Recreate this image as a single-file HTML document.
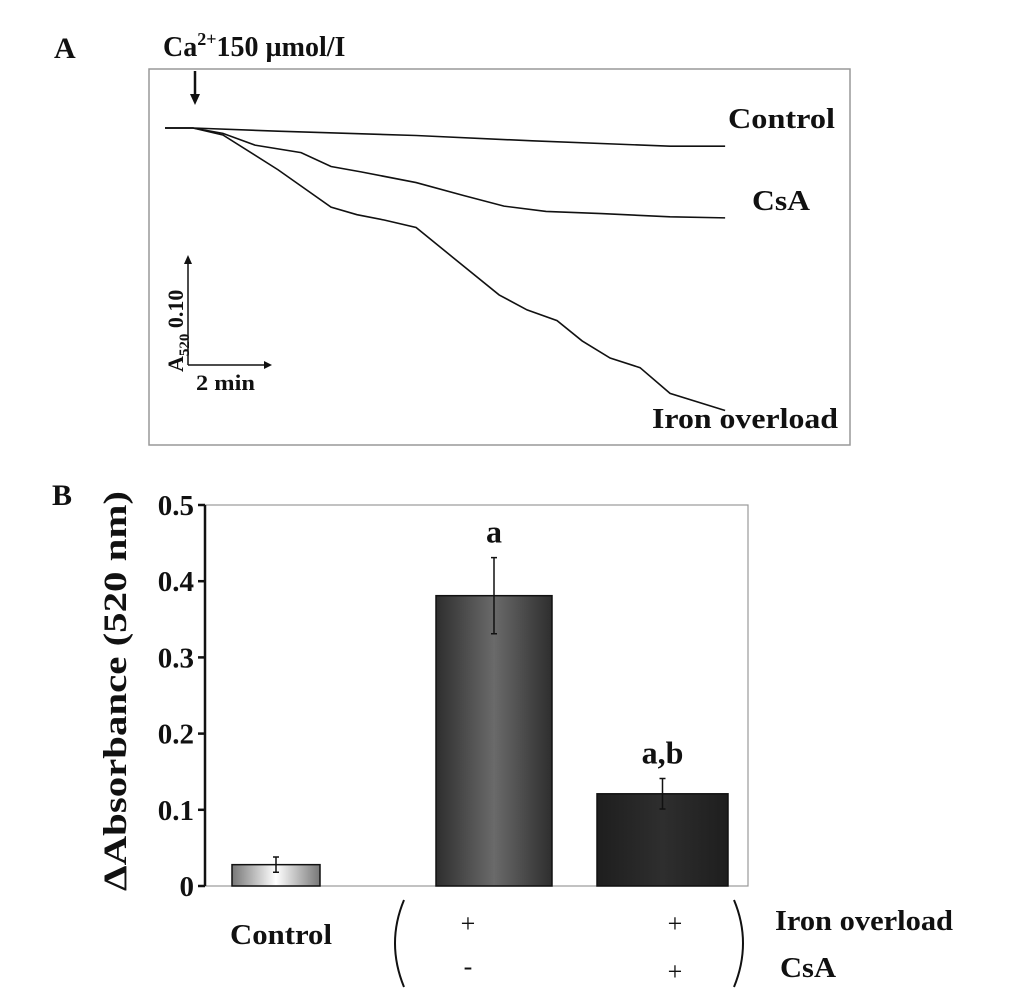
<!DOCTYPE html>
<html><head><meta charset="utf-8"><style>
body{margin:0;background:#fff}
svg text{font-family:"Liberation Serif",serif;font-weight:bold;fill:#111}
</style></head><body>
<svg width="1033" height="990" viewBox="0 0 1033 990" xmlns="http://www.w3.org/2000/svg">
<defs>
<linearGradient id="g0" x1="0" x2="1"><stop offset="0" stop-color="#777"/><stop offset="0.5" stop-color="#fff"/><stop offset="1" stop-color="#777"/></linearGradient>
<linearGradient id="g1" x1="0" x2="1"><stop offset="0" stop-color="#2e2e2e"/><stop offset="0.5" stop-color="#6a6a6a"/><stop offset="1" stop-color="#2e2e2e"/></linearGradient>
<linearGradient id="g2" x1="0" x2="1"><stop offset="0" stop-color="#1e1e1e"/><stop offset="0.5" stop-color="#2e2e2e"/><stop offset="1" stop-color="#1e1e1e"/></linearGradient>
</defs>
<text x="54" y="58" font-size="30">A</text>
<text x="52" y="505" font-size="30">B</text>
<rect x="149" y="69" width="701" height="376" fill="none" stroke="#999" stroke-width="1.5"/>
<text x="163" y="56" font-size="28">Ca<tspan font-size="18" dy="-11">2+</tspan><tspan dy="11">150 µmol/I</tspan></text>
<g><line x1="195" y1="71" x2="195" y2="96" stroke="#111" stroke-width="2.5"/><path d="M190,94 L200,94 L195,105 Z" fill="#111"/></g>
<g id="traces"></g>
<text x="728" y="128" font-size="29" textLength="107" lengthAdjust="spacingAndGlyphs">Control</text>
<text x="752" y="210" font-size="29" textLength="58" lengthAdjust="spacingAndGlyphs">CsA</text>
<text x="652" y="428" font-size="29" textLength="186" lengthAdjust="spacingAndGlyphs">Iron overload</text>
<g>
<line x1="188" y1="365" x2="188" y2="262" stroke="#111" stroke-width="1.5"/><path d="M184,264 L192,264 L188,255 Z" fill="#111"/>
<line x1="188" y1="365" x2="266" y2="365" stroke="#111" stroke-width="1.5"/><path d="M264,361 L264,369 L272,365 Z" fill="#111"/>
<text transform="translate(183,372) rotate(-90)" font-size="22">A<tspan font-size="15" dy="6">520</tspan><tspan dy="-6"> 0.10</tspan></text>
<text x="196" y="390" font-size="22" textLength="59" lengthAdjust="spacingAndGlyphs">2 min</text>
</g>
<rect x="205" y="505" width="543" height="381" fill="none" stroke="#999" stroke-width="1.2"/>
<g id="bars"></g>
<text transform="translate(126,691) rotate(-90)" font-size="33" text-anchor="middle" textLength="400" lengthAdjust="spacingAndGlyphs">ΔAbsorbance (520 nm)</text>
<text x="230" y="944" font-size="28" textLength="102" lengthAdjust="spacingAndGlyphs">Control</text>
<path d="M404,900 Q386,943 404,987" fill="none" stroke="#111" stroke-width="2"/>
<path d="M734,900 Q752,943 734,987" fill="none" stroke="#111" stroke-width="2"/>
<text x="468" y="932" font-size="26" text-anchor="middle" style="font-weight:normal">+</text>
<text x="675" y="932" font-size="26" text-anchor="middle" style="font-weight:normal">+</text>
<text x="468" y="975" font-size="26" text-anchor="middle" style="font-weight:normal">-</text>
<text x="675" y="980" font-size="26" text-anchor="middle" style="font-weight:normal">+</text>
<text x="775" y="930" font-size="28" textLength="178" lengthAdjust="spacingAndGlyphs">Iron overload</text>
<text x="780" y="977" font-size="28" textLength="56" lengthAdjust="spacingAndGlyphs">CsA</text>
</svg>
<script>
const traceNames=["control","csa","iron-overload"];
const controlT=[0,0.69,2.79,6.20,9.07,12.47,13.83];
const controlA=[0,0,-0.003,-0.007,-0.012,-0.017,-0.017];
const csaT=[0,0.69,1.43,2.22,3.36,4.10,4.84,6.20,7.36,8.37,9.41,10.77,12.47,13.83];
const csaA=[0,0,-0.005,-0.016,-0.023,-0.036,-0.041,-0.051,-0.063,-0.073,-0.078,-0.080,-0.083,-0.084];
const ironT=[0,0.69,1.43,2.79,4.10,4.74,5.41,6.20,7.11,8.25,8.94,9.68,10.30,10.99,11.73,12.47,13.83];
const ironA=[0,0,-0.0065,-0.039,-0.074,-0.081,-0.086,-0.093,-0.121,-0.156,-0.170,-0.180,-0.199,-0.215,-0.224,-0.248,-0.264];
const tx=t=>165+t*40.5, ay=a=>128-a*1070;
const NS="http://www.w3.org/2000/svg";
const tg=document.getElementById('traces');
[[controlT,controlA],[csaT,csaA],[ironT,ironA]].forEach((s,i)=>{
  const p=document.createElementNS(NS,'polyline');
  p.setAttribute('points',s[0].map((t,j)=>tx(t)+','+ay(s[1][j])).join(' '));
  p.setAttribute('fill','none');p.setAttribute('stroke','#111');p.setAttribute('stroke-width','1.6');
  
  
  tg.appendChild(p);
});
const barNames=["control","iron-overload","iron-overload-csa"];
const barValues=[0.028,0.381,0.121];
const barErrors=[0.01,0.05,0.02];
const barLabels=["","a","a,b"];
const yTicks=[0,0.1,0.2,0.3,0.4,0.5];
const yTickLabels=["0","0.1","0.2","0.3","0.4","0.5"];
const barX=[232,436,597], barW=[88,116,131], fills=["url(#g0)","url(#g1)","url(#g2)"];
const vy=v=>886-v*762;
const bg=document.getElementById('bars');
function el(tag,attrs){const e=document.createElementNS(NS,tag);for(const k in attrs)e.setAttribute(k,attrs[k]);bg.appendChild(e);return e;}
const ax=el('line',{x1:205,y1:505,x2:205,y2:886,stroke:'#111','stroke-width':2.5});


yTicks.forEach((v,i)=>{
  const t=el('line',{x1:198,y1:vy(v),x2:205,y2:vy(v),stroke:'#111','stroke-width':2.5});
  
  
  const l=el('text',{x:194,y:vy(v)+10,'font-size':29,'text-anchor':'end'});
  l.textContent=yTickLabels[i];
  
  
});
barValues.forEach((v,i)=>{
  const r=el('rect',{x:barX[i],y:vy(v),width:barW[i],height:886-vy(v),fill:fills[i],stroke:'#111','stroke-width':1.5});
  
  
  const cx=barX[i]+barW[i]/2, e=barErrors[i];
  const eb=el('path',{d:`M${cx},${vy(v+e)}V${vy(v-e)}M${cx-3},${vy(v+e)}H${cx+3}M${cx-3},${vy(v-e)}H${cx+3}`,stroke:'#111','stroke-width':1.5,fill:'none'});
  
  
  if(barLabels[i]){
    const t=el('text',{x:cx,y:vy(v+e)-15,'font-size':32,'text-anchor':'middle'});
    t.textContent=barLabels[i];
    
    
  }
});
</script>
</body></html>
